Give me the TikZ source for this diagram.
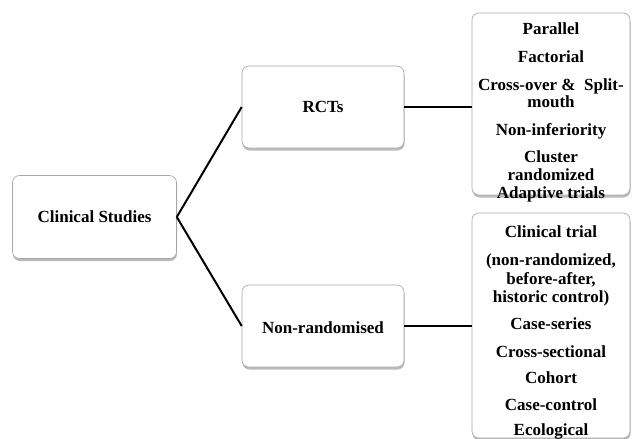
\documentclass[tikz,border=0pt]{standalone}
\usepackage{fontspec}
\setmainfont{Liberation Serif}
\usetikzlibrary{shadows}
\begin{document}
\begin{tikzpicture}[x=1pt,y=-1pt,
  box/.style={draw=black!35, line width=0.6pt, fill=white, rounded corners=7pt,
    drop shadow={shadow xshift=0.5pt, shadow yshift=-2.5pt, opacity=0.45, fill=black!60}},
  lbl/.style={font=\bfseries\fontsize{17}{19}\selectfont, inner sep=0pt, anchor=base},
  conn/.style={line width=2pt, black}]
\useasboundingbox (0,0) rectangle (632,439);
% boxes
\node[box, minimum width=164pt, minimum height=83pt] (cs) at (94.5,217) {};
\node[box, minimum width=162pt, minimum height=82pt] (rct) at (323,107) {};
\node[box, minimum width=162pt, minimum height=82pt] (nr) at (323,326) {};
\node[box, minimum width=158pt, minimum height=182pt] (top) at (551,104) {};
\node[box, minimum width=158pt, minimum height=225pt] (bot) at (551,325.5) {};
% labels
\node[lbl] (cst) at (94.5,222) {Clinical Studies};
\node[lbl] (rctt) at (323,112) {RCTs};
\node[lbl] (nrt) at (323,333) {Non-randomised};
% top list
\node[lbl] (a1) at (551,34.5) {Parallel};
\node[lbl] (a2) at (551,62.5) {Factorial};
\node[lbl] (a3) at (551,90.5) {Cross-over \&\ \ Split-};
\node[lbl] (a4) at (551,107.5) {mouth};
\node[lbl] (a5) at (551,135.5) {Non-inferiority};
\node[lbl] (a6) at (551,162.5) {Cluster};
\node[lbl] (a7) at (551,180.5) {randomized};
\node[lbl] (a8) at (551,198) {Adaptive trials};
% bottom list
\node[lbl] (b1) at (551,237) {Clinical trial};
\node[lbl] (b2) at (551,265) {(non-randomized,};
\node[lbl] (b3) at (551,284) {before-after,};
\node[lbl] (b4) at (551,302) {historic control)};
\node[lbl] (b5) at (551,329) {Case-series};
\node[lbl] (b6) at (551,357) {Cross-sectional};
\node[lbl] (b7) at (551,383) {Cohort};
\node[lbl] (b8) at (551,410) {Case-control};
\node[lbl] (b9) at (551,435) {Ecological};
% connectors
\draw[conn] (cs.east) -- (rct.west);
\draw[conn] (cs.east) -- (nr.west);
\draw[conn] (rct.east) -- (rct.east -| top.west);
\draw[conn] (nr.east) -- (nr.east -| bot.west);
\end{tikzpicture}
\end{document}
